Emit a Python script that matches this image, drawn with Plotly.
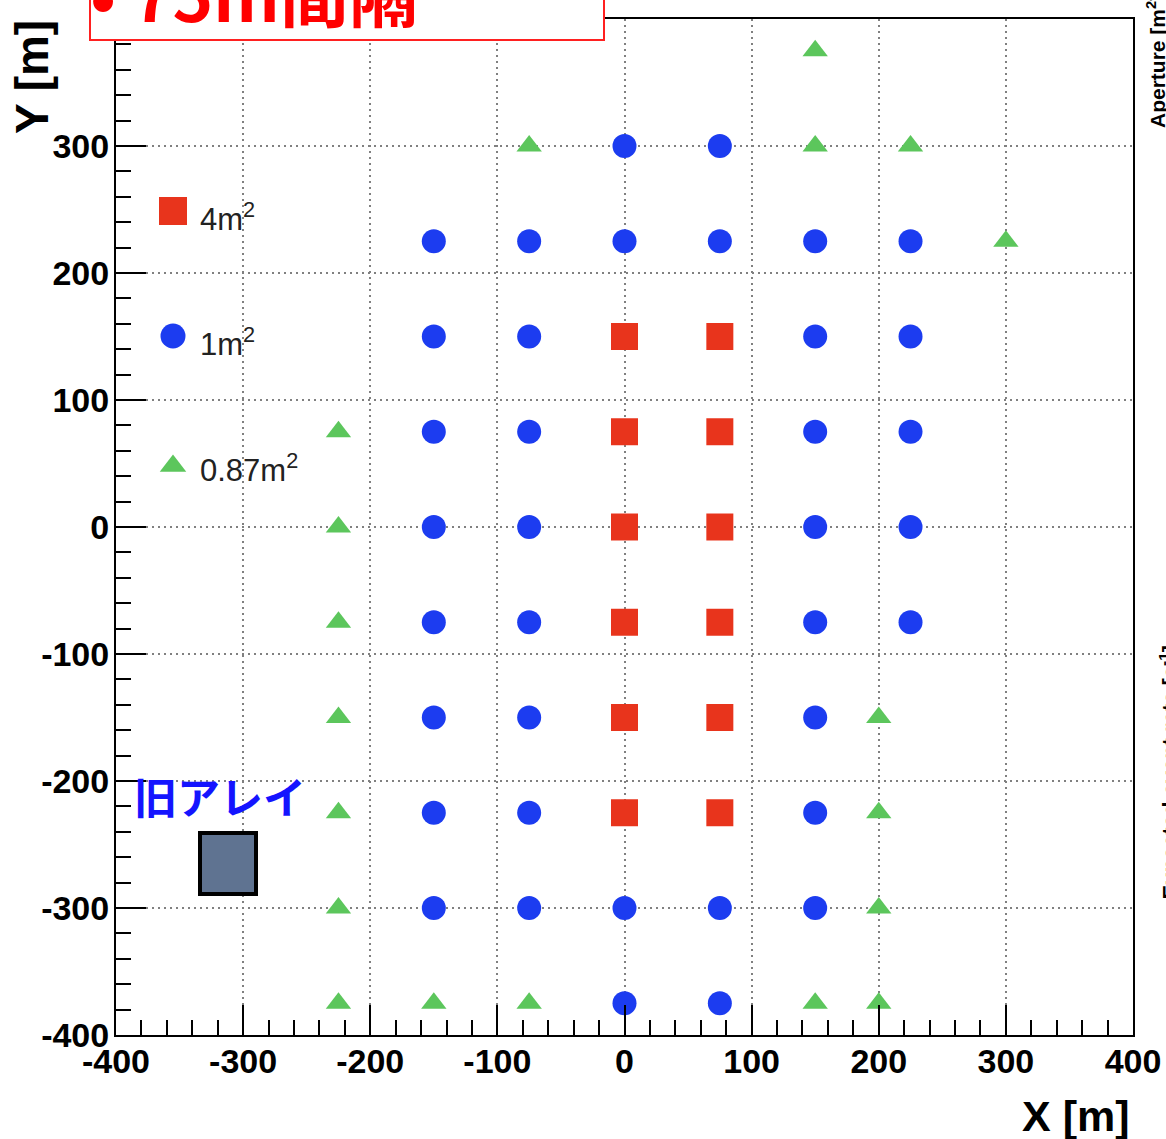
import plotly.graph_objects as go

# Detector positions [m]
sq_x = [0, 75, 0, 75, 0, 75, 0, 75, 0, 75, 0, 75]
sq_y = [150, 150, 75, 75, 0, 0, -75, -75, -150, -150, -225, -225]

circ_x = [0, 75,
          -150, -75, 0, 75, 150, 225,
          -150, -75, 150, 225,
          -150, -75, 150, 225,
          -150, -75, 150, 225,
          -150, -75, 150, 225,
          -150, -75, 150,
          -150, -75, 150,
          -150, -75, 0, 75, 150,
          0, 75]
circ_y = [300, 300,
          225, 225, 225, 225, 225, 225,
          150, 150, 150, 150,
          75, 75, 75, 75,
          0, 0, 0, 0,
          -75, -75, -75, -75,
          -150, -150, -150,
          -225, -225, -225,
          -300, -300, -300, -300, -300,
          -375, -375]

tri_x = [150,
         -75, 150, 225,
         300,
         -225, -225, -225, -225, -225, -225, -225,
         200, 200, 200, 200,
         -150, -75, 150]
tri_y = [375,
         300, 300, 300,
         225,
         75, 0, -75, -150, -225, -300, -375,
         -150, -225, -300, -375,
         -375, -375, -375]

series_names = ["4m<sup>2</sup>", "1m<sup>2</sup>", "0.87m<sup>2</sup>"]
series_symbols = ["square", "circle", "triangle-up"]
series_colors = ["#e8341c", "#1c3cf0", "#5cc65c"]
series_sizes = [27, 24, 22]

axis_ticks = [-400, -300, -200, -100, 0, 100, 200, 300, 400]
axis_ticktext = ["-400", "-300", "-200", "-100", "0", "100", "200", "300", "400"]

W, H = 1166, 1139
L, R, T, B = 116, 33, 19, 104
PW, PH = W - L - R, H - T - B


def px(x):
    return (x - L) / PW


def py(y):
    return 1 - (y - T) / PH


fig = go.Figure()

for xs, ys, name, sym, col, size in zip(
        [sq_x, circ_x, tri_x], [sq_y, circ_y, tri_y],
        series_names, series_symbols, series_colors, series_sizes):
    fig.add_trace(go.Scatter(
        x=xs, y=ys, mode="markers", name=name, showlegend=False,
        marker=dict(symbol=sym, color=col, size=size, line=dict(width=0)),
    ))

# Legend swatches drawn on an overlay axis spanning the plot area (0..1)
leg_x = px(173)
leg_rows = [py(211), py(336), py(466)]
leg_text_rows = [py(217), py(342), py(468)]
for name, sym, col, size, yy, ty in zip(series_names, series_symbols,
                                          series_colors, series_sizes,
                                          leg_rows, leg_text_rows):
    fig.add_trace(go.Scatter(
        x=[leg_x], y=[yy], xaxis="x2", yaxis="y2", mode="markers",
        showlegend=False, hoverinfo="skip",
        marker=dict(symbol=sym, color=col, size=size + 1, line=dict(width=0)),
    ))
    fig.add_annotation(
        x=px(198), y=ty, xref="paper", yref="paper", text=name,
        showarrow=False, xanchor="left", yanchor="middle",
        font=dict(family="Liberation Sans", size=31, color="#222222"),
    )

axis_common = dict(
    range=[-400, 400], tickvals=axis_ticks, ticktext=axis_ticktext,
    ticks="inside", ticklen=30,
    tickwidth=2, tickcolor="black", showline=True, linecolor="black",
    linewidth=2, mirror=True, showgrid=True, gridcolor="#808080",
    gridwidth=1.5, griddash="2px,4px", zeroline=False,
    tickfont=dict(family="Liberation Sans", size=34, color="black",
                  weight="bold"),
    minor=dict(ticks="inside", ticklen=15, tickwidth=2, tickcolor="black",
               dtick=20, showgrid=False),
)

fig.update_layout(
    width=W, height=H,
    margin=dict(l=L, r=R, t=T, b=B, autoexpand=False),
    paper_bgcolor="white", plot_bgcolor="white",
    xaxis=dict(**axis_common, ticklabelstandoff=-5),
    yaxis=dict(**axis_common, ticklabelstandoff=-2),
    xaxis2=dict(overlaying="x", range=[0, 1], visible=False, anchor="y2"),
    yaxis2=dict(overlaying="y", range=[0, 1], visible=False, anchor="x2"),
    showlegend=False,
)

# Blank panel behind the legend entries (hides the grid there)
fig.add_shape(type="rect", xref="paper", yref="paper",
              x0=px(147), x1=px(308), y0=py(520), y1=py(150),
              fillcolor="white", line=dict(width=0), layer="between")

# Axis titles
fig.add_annotation(x=px(32), y=py(18), xref="paper", yref="paper",
                   text="Y [m]", textangle=-90, showarrow=False,
                   xanchor="center", yanchor="top",
                   font=dict(family="Liberation Sans", size=46,
                             color="black", weight="bold"))
fig.add_annotation(x=px(1132), y=py(1116), xref="paper", yref="paper",
                   text="X [m]", showarrow=False,
                   xanchor="right", yanchor="middle",
                   font=dict(family="Liberation Sans", size=43,
                             color="black", weight="bold"))

# Old array marker
fig.add_shape(type="rect", xref="paper", yref="paper",
              x0=px(200), x1=px(256), y0=py(894), y1=py(833),
              fillcolor="#5f7391", line=dict(color="black", width=4),
              layer="above")
fig.add_annotation(x=px(220), y=py(795), xref="paper", yref="paper",
                   text="旧アレイ", showarrow=False,
                   xanchor="center", yanchor="middle",
                   font=dict(family="Noto Sans CJK JP", size=43,
                             color="#1414ff", weight="bold"))

# Spacing heading box
fig.add_shape(type="rect", xref="paper", yref="paper",
              x0=px(90), x1=px(604), y0=py(40), y1=py(-20),
              fillcolor="white", line=dict(color="#ff2020", width=2),
              layer="above")
fig.add_annotation(x=px(88), y=py(-8), xref="paper", yref="paper",
                   text="•\u00a075m間隔", showarrow=False,
                   xanchor="left", yanchor="middle",
                   font=dict(family="Noto Sans CJK JP", size=69,
                             color="#ff0000", weight="bold"))

# Side labels of neighbouring panels
fig.add_annotation(x=px(1156), y=py(-8), xref="paper", yref="paper",
                   text="Aperture [m<sup>2</sup>]", textangle=-90,
                   showarrow=False, xanchor="center", yanchor="top",
                   font=dict(family="Liberation Sans", size=21,
                             color="black", weight="bold"))
fig.add_annotation(x=px(1168), y=py(902), xref="paper", yref="paper",
                   text="Expected event rate [s<sup>-1</sup>]", textangle=-90,
                   showarrow=False, xanchor="center", yanchor="bottom",
                   font=dict(family="Liberation Sans", size=22,
                             color="black", weight="bold"))

fig.write_html("out.html")
